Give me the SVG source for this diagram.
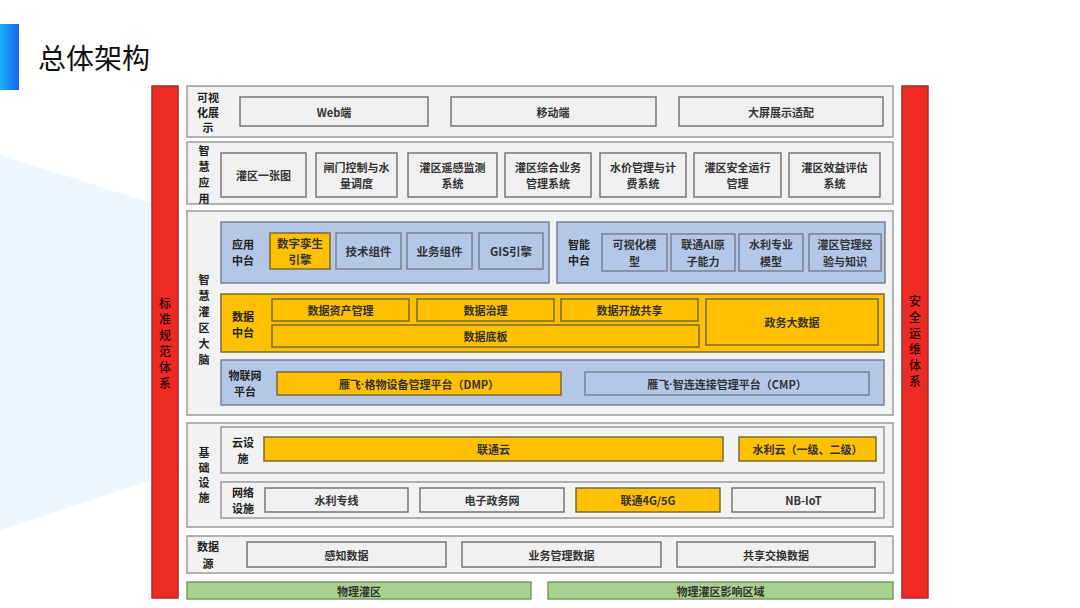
<svg xmlns="http://www.w3.org/2000/svg" width="1080" height="608" viewBox="0 0 1080 608">
<defs>
<linearGradient id="gBar" x1="0" y1="0" x2="1" y2="0">
<stop offset="0" stop-color="#19b4f2"/>
<stop offset="1" stop-color="#1466f0"/>
</linearGradient>
<style>
text{font-family:"Noto Sans CJK SC","Liberation Sans",sans-serif;text-anchor:middle;dominant-baseline:central;font-weight:bold;font-size:11px;fill:#333}
.lay{fill:#f2f2f2;stroke:#9a9a9a;stroke-width:1.5}
.gr{fill:#f0f0f0;stroke:#777;stroke-width:1.5}
.gd{fill:#ffc000;stroke:#7a6a3a;stroke-width:1.5}
.bl{fill:#b4c7e7;stroke:#7a8295;stroke-width:1.5}
.rd{fill:#ee2a24;stroke:#a82a2a;stroke-width:1.5}
.gn{fill:#a9d18e;stroke:#7a9a6a;stroke-width:1.5}
.lb{font-size:11px;fill:#222}
.vt{font-size:12px;fill:#2a0505;font-weight:500}
.dot{font-family:"Liberation Sans",sans-serif}
</style>
</defs>
<rect width="1080" height="608" fill="#ffffff"/>
<g id="background" fill="#eef7fd">
<polygon points="0,155 180,212 180,345 0,290"/>
<polygon points="0,290 180,245 180,470 0,530"/>
</g>
<g id="title">
<rect x="0" y="24" width="19" height="66" fill="url(#gBar)"/>
<text x="38" y="57" style="text-anchor:start;font-size:28px;font-weight:normal;fill:#111">总体架构</text>
</g>
<g id="side-left">
<rect class="rd" x="152" y="86" width="26" height="512"/>
<text class="vt" x="165"><tspan x="165" y="302">标</tspan><tspan x="165" y="318">准</tspan><tspan x="165" y="334">规</tspan><tspan x="165" y="350">范</tspan><tspan x="165" y="366">体</tspan><tspan x="165" y="382">系</tspan></text>
</g>
<g id="side-right">
<rect class="rd" x="902" y="86" width="26" height="512"/>
<text class="vt" x="915"><tspan x="915" y="300">安</tspan><tspan x="915" y="316">全</tspan><tspan x="915" y="332">运</tspan><tspan x="915" y="348">维</tspan><tspan x="915" y="364">体</tspan><tspan x="915" y="380">系</tspan></text>
</g>
<g id="layer-visual">
<rect class="lay" x="187" y="86" width="706" height="51"/>
<text class="lb"><tspan x="208" y="97">可视</tspan><tspan x="208" y="112">化展</tspan><tspan x="208" y="127">示</tspan></text>
<rect class="gr" x="240" y="97" width="188" height="29"/><text x="334" y="111.5">Web端</text>
<rect class="gr" x="451" y="97" width="205" height="29"/><text x="553" y="111.5">移动端</text>
<rect class="gr" x="679" y="97" width="204" height="29"/><text x="781" y="111.5">大屏展示适配</text>
</g>
<g id="layer-app">
<rect class="lay" x="187" y="142" width="706" height="62"/>
<text class="lb"><tspan x="204" y="150">智</tspan><tspan x="204" y="166">慧</tspan><tspan x="204" y="182">应</tspan><tspan x="204" y="198">用</tspan></text>
<rect class="gr" x="221" y="153" width="85" height="44"/><text x="263.5" y="175">灌区一张图</text>
<rect class="gr" x="316" y="153" width="81" height="44"/><text><tspan x="356.5" y="167">闸门控制与水</tspan><tspan x="356.5" y="183">量调度</tspan></text>
<rect class="gr" x="408" y="153" width="89" height="44"/><text><tspan x="452.5" y="167">灌区遥感监测</tspan><tspan x="452.5" y="183">系统</tspan></text>
<rect class="gr" x="505" y="153" width="86" height="44"/><text><tspan x="548" y="167">灌区综合业务</tspan><tspan x="548" y="183">管理系统</tspan></text>
<rect class="gr" x="600" y="153" width="86" height="44"/><text><tspan x="643" y="167">水价管理与计</tspan><tspan x="643" y="183">费系统</tspan></text>
<rect class="gr" x="694" y="153" width="87" height="44"/><text><tspan x="737.5" y="167">灌区安全运行</tspan><tspan x="737.5" y="183">管理</tspan></text>
<rect class="gr" x="789" y="153" width="91" height="44"/><text><tspan x="834.5" y="167">灌区效益评估</tspan><tspan x="834.5" y="183">系统</tspan></text>
</g>
<g id="layer-brain">
<rect class="lay" x="187" y="211" width="706" height="204"/>
<text class="lb"><tspan x="204" y="279">智</tspan><tspan x="204" y="295">慧</tspan><tspan x="204" y="311">灌</tspan><tspan x="204" y="327">区</tspan><tspan x="204" y="343">大</tspan><tspan x="204" y="359">脑</tspan></text>
</g>
<g id="app-middle">
<rect class="bl" x="221" y="222" width="328" height="61"/>
<text class="lb"><tspan x="243" y="244">应用</tspan><tspan x="243" y="260">中台</tspan></text>
<rect class="gd" x="270" y="233" width="60" height="36"/><text style="font-size:11.5px"><tspan x="300" y="243">数字孪生</tspan><tspan x="300" y="259">引擎</tspan></text>
<rect class="bl" x="336" y="233" width="65" height="36"/><text x="368.5" y="251" style="font-size:11.5px">技术组件</text>
<rect class="bl" x="407" y="233" width="65" height="36"/><text x="439.5" y="251" style="font-size:11.5px">业务组件</text>
<rect class="bl" x="479" y="233" width="64" height="36"/><text x="511" y="251" style="font-size:11.5px">GIS引擎</text>
</g>
<g id="ai-middle">
<rect class="bl" x="557" y="222" width="328" height="61"/>
<text class="lb"><tspan x="579" y="244">智能</tspan><tspan x="579" y="260">中台</tspan></text>
<rect class="bl" x="602" y="234" width="65" height="37"/><text><tspan x="634.5" y="244">可视化模</tspan><tspan x="634.5" y="261">型</tspan></text>
<rect class="bl" x="671" y="234" width="64" height="37"/><text><tspan x="703" y="244">联通AI原</tspan><tspan x="703" y="261">子能力</tspan></text>
<rect class="bl" x="739" y="234" width="64" height="37"/><text><tspan x="771" y="244">水利专业</tspan><tspan x="771" y="261">模型</tspan></text>
<rect class="bl" x="809" y="234" width="72" height="37"/><text><tspan x="845" y="244">灌区管理经</tspan><tspan x="845" y="261">验与知识</tspan></text>
</g>
<g id="data-middle">
<rect class="gd" x="221" y="294" width="663" height="58"/>
<text class="lb"><tspan x="243" y="316">数据</tspan><tspan x="243" y="332">中台</tspan></text>
<rect class="gd" x="272" y="299" width="137" height="22"/><text x="340.5" y="310">数据资产管理</text>
<rect class="gd" x="417" y="299" width="137" height="22"/><text x="485.5" y="310">数据治理</text>
<rect class="gd" x="561" y="299" width="137" height="22"/><text x="629.5" y="310">数据开放共享</text>
<rect class="gd" x="272" y="325" width="427" height="22"/><text x="485.5" y="336">数据底板</text>
<rect class="gd" x="706" y="299" width="172" height="46"/><text x="792" y="322">政务大数据</text>
</g>
<g id="iot-platform">
<rect class="bl" x="221" y="360" width="663" height="45"/>
<text class="lb"><tspan x="245" y="375">物联网</tspan><tspan x="245" y="391">平台</tspan></text>
<rect class="gd" x="277" y="372" width="284" height="23"/><text x="419" y="383.5">雁飞<tspan class="dot">·</tspan>格物设备管理平台（DMP）</text>
<rect class="bl" x="585" y="372" width="284" height="23"/><text x="727" y="383.5">雁飞<tspan class="dot">·</tspan>智连连接管理平台（CMP）</text>
</g>
<g id="layer-infra">
<rect class="lay" x="187" y="423" width="706" height="104"/>
<text class="lb"><tspan x="204" y="452">基</tspan><tspan x="204" y="467">础</tspan><tspan x="204" y="482">设</tspan><tspan x="204" y="497">施</tspan></text>
</g>
<g id="cloud">
<rect class="lay" x="221" y="427" width="663" height="46"/>
<text class="lb"><tspan x="243" y="442">云设</tspan><tspan x="243" y="458">施</tspan></text>
<rect class="gd" x="264" y="437" width="459" height="24"/><text x="493.5" y="449">联通云</text>
<rect class="gd" x="739" y="437" width="137" height="24"/><text x="807.5" y="449">水利云（一级、二级）</text>
</g>
<g id="network">
<rect class="lay" x="221" y="482" width="663" height="36"/>
<text class="lb"><tspan x="243" y="492">网络</tspan><tspan x="243" y="508">设施</tspan></text>
<rect class="gr" x="265" y="488" width="143" height="24"/><text x="336.5" y="500">水利专线</text>
<rect class="gr" x="420" y="488" width="144" height="24"/><text x="492" y="500">电子政务网</text>
<rect class="gd" x="576" y="488" width="144" height="24"/><text x="648" y="500">联通4G/5G</text>
<rect class="gr" x="732" y="488" width="143" height="24"/><text x="803.5" y="500">NB-IoT</text>
</g>
<g id="layer-source">
<rect class="lay" x="187" y="536" width="706" height="37"/>
<text class="lb"><tspan x="208" y="546">数据</tspan><tspan x="208" y="563">源</tspan></text>
<rect class="gr" x="247" y="542" width="199" height="25"/><text x="346.5" y="554.5">感知数据</text>
<rect class="gr" x="462" y="542" width="199" height="25"/><text x="561.5" y="554.5">业务管理数据</text>
<rect class="gr" x="677" y="542" width="198" height="25"/><text x="776" y="554.5">共享交换数据</text>
</g>
<g id="physical">
<rect class="gn" x="187" y="582" width="344" height="17"/><text x="359" y="590.5">物理灌区</text>
<rect class="gn" x="548" y="582" width="345" height="17"/><text x="720.5" y="590.5">物理灌区影响区域</text>
</g>
<g id="connectors"></g>
</svg>
